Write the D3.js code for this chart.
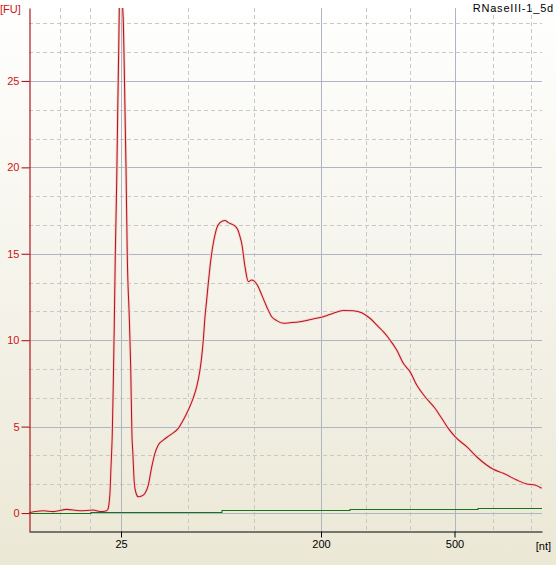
<!DOCTYPE html>
<html>
<head>
<meta charset="utf-8">
<script src="https://cdn.jsdelivr.net/npm/d3@7"></script>
<style>
  html, body {margin: 0; padding: 0; background: #ece9d8;}
  svg {display: block;}
  text {font-family: "Liberation Sans", Arial, sans-serif; font-size: 11px;}
</style>
</head>
<body>
<svg id="chart" width="556" height="565"></svg>
<script>
// electropherogram: migration time (s) vs fluorescence (FU)
const sampleName = 'RNaseIII-1_5d';
const yTicks = [0, 5, 10, 15, 20, 25];
const ladderSizes = [25, 200, 500];
const ladderTimes = [27.2, 47.2, 60.55];
const segmentBounds = [18, 27.2, 47.2, 60.55, 72.0];

const sampleTime = [18.0, 19.43, 20.43, 21.77, 23.1, 24.43, 25.1, 25.77, 25.93, 26.03, 26.1, 26.2, 26.33, 26.43,
  26.53, 26.63, 26.77, 26.87, 26.97, 27.03, 27.2, 27.37, 27.43, 27.53, 27.7, 27.83, 28.03, 28.17, 28.3, 28.37,
  28.53, 28.7, 28.93, 29.27, 29.6, 29.93, 30.27, 30.6, 30.93, 31.43, 32.1, 32.93, 33.43, 33.93, 34.43, 34.77,
  35.1, 35.27, 35.43, 35.6, 35.77, 35.93, 36.1, 36.27, 36.43, 36.6, 36.77, 37.1, 37.6, 37.93, 38.43, 38.7,
  38.93, 39.1, 39.27, 39.6, 39.93, 40.27, 40.5, 40.83, 41.27, 41.77, 42.27, 42.77, 43.43, 44.1, 45.1, 46.43,
  47.43, 48.43, 49.43, 50.43, 51.27, 52.1, 52.93, 53.43, 54.1, 54.77, 55.43, 56.1, 56.77, 57.6, 58.6, 59.27,
  59.93, 60.6, 61.77, 62.93, 64.43, 65.43, 66.77, 67.77, 68.6, 69.27];
const sampleFU = [0.02, 0.13, 0.08, 0.21, 0.13, 0.17, 0.08, 0.13, 0.29, 0.69, 1.22, 2.66, 4.63, 7.52,
  11.0, 14.93, 19.16, 23.15, 26.79, 29.2, 40.0, 29.2, 28.5, 25.6, 20.0, 14.8, 11.3, 8.45, 4.4, 3.65,
  1.74, 1.16, 0.94, 0.98, 1.14, 1.62, 2.66, 3.47, 3.94, 4.22, 4.51, 4.9, 5.38, 5.96, 6.66, 7.31,
  8.28, 9.05, 10.01, 11.36, 12.33, 13.31, 14.25, 15.03, 15.61, 16.09, 16.48, 16.8, 16.93, 16.8, 16.67, 16.55,
  16.32, 15.99, 15.61, 14.25, 13.39, 13.48, 13.43, 13.19, 12.62, 11.94, 11.36, 11.13, 10.98, 11.01, 11.07, 11.23,
  11.36, 11.56, 11.72, 11.70, 11.59, 11.27, 10.78, 10.49, 10.01, 9.43, 8.66, 8.18, 7.41, 6.73, 6.06, 5.48,
  4.9, 4.42, 3.84, 3.17, 2.53, 2.3, 1.91, 1.68, 1.62, 1.43];

const baselineTime = [18, 24.2, 37.3, 50.1, 62.9, 69.3];
const baselineFU = [0.02, 0.07, 0.15, 0.22, 0.28, 0.28];

const width = 556, height = 565;
const margin = {top: 8, right: 14, bottom: 34, left: 29};

let svg = d3.select('#chart');

let grad = svg.append('defs').append('linearGradient')
  .attr('id', 'bg').attr('x1', 0).attr('y1', 0).attr('x2', 0).attr('y2', 1);
grad.append('stop').attr('offset', '0%').attr('stop-color', '#ffffff');
grad.append('stop').attr('offset', '100%').attr('stop-color', '#ebe8d6');

svg.select('defs').append('clipPath').attr('id', 'plotClip')
  .append('rect')
  .attr('x', margin.left).attr('y', margin.top)
  .attr('width', width - margin.left - margin.right)
  .attr('height', height - margin.top - margin.bottom);

svg.append('rect').attr('width', width).attr('height', height).attr('fill', 'url(#bg)');

let x = d3.scaleLinear().domain([18, 69.3]).range([margin.left, width - margin.right]);
let y = d3.scaleLinear().domain([-1.04, 29.22]).range([height - margin.bottom, margin.top]);

// grid: dashed thirds between ladder peaks, solid at labelled sizes
let minorX = [];
for (let i = 0; i < segmentBounds.length - 1; i++) {
  let a = segmentBounds[i], b = segmentBounds[i + 1];
  [1, 2].forEach(j => minorX.push(a + (b - a) * j / 3));
}
minorX = minorX.filter(d => d > x.domain()[0] && d < x.domain()[1]);
let minorY = d3.range(1, 18).filter(k => k % 3 !== 0).map(k => k * 5 / 3);

let grid = svg.append('g').attr('class', 'grid');
grid.selectAll('.minor-x').data(minorX).join('line')
  .attr('x1', d => Math.round(x(d)) + 0.5).attr('x2', d => Math.round(x(d)) + 0.5)
  .attr('y1', y.range()[1]).attr('y2', y.range()[0])
  .attr('stroke', '#c8c8c8').attr('stroke-dasharray', '4,3');
grid.selectAll('.minor-y').data(minorY).join('line')
  .attr('x1', x.range()[0]).attr('x2', x.range()[1])
  .attr('y1', d => Math.round(y(d)) + 0.5).attr('y2', d => Math.round(y(d)) + 0.5)
  .attr('stroke', '#c8c8c8').attr('stroke-dasharray', '4,3');
grid.selectAll('.major-x').data(ladderTimes).join('line')
  .attr('x1', d => Math.round(x(d)) + 0.5).attr('x2', d => Math.round(x(d)) + 0.5)
  .attr('y1', y.range()[1]).attr('y2', y.range()[0])
  .attr('stroke', '#aeb5c3');
grid.selectAll('.major-y').data(yTicks).join('line')
  .attr('x1', x.range()[0]).attr('x2', x.range()[1])
  .attr('y1', d => Math.round(y(d)) + 0.5).attr('y2', d => Math.round(y(d)) + 0.5)
  .attr('stroke', '#aeb5c3');

// traces
let sample = sampleTime.map((t, i) => [t, sampleFU[i]]);
let baseline = baselineTime.map((t, i) => [t, baselineFU[i]]);

let sampleLine = d3.line().x(d => x(d[0])).y(d => y(d[1])).curve(d3.curveMonotoneX);
let baselineLine = d3.line().x(d => x(d[0])).y(d => Math.round(y(d[1])) + 0.5).curve(d3.curveStepAfter);

let traces = svg.append('g').attr('clip-path', 'url(#plotClip)');
traces.append('path').datum(sample).attr('d', sampleLine)
  .attr('fill', 'none').attr('stroke', '#f7d2cf').attr('stroke-width', 2.8).attr('stroke-linejoin', 'round');
traces.append('path').datum(sample).attr('d', sampleLine)
  .attr('fill', 'none').attr('stroke', '#b3171b').attr('stroke-width', 1.05).attr('stroke-linejoin', 'round');
traces.append('path').datum(baseline).attr('d', baselineLine)
  .attr('fill', 'none').attr('stroke', '#17741a').attr('stroke-width', 1.1);

// axes
let yAxis = svg.append('g')
  .attr('transform', `translate(${margin.left + 0.5},0)`)
  .call(d3.axisLeft(y).tickValues(yTicks).tickSize(8).tickSizeOuter(0).tickPadding(2));
yAxis.select('.domain').attr('stroke', '#b3171b').attr('stroke-width', 1.2);
yAxis.selectAll('.tick line').attr('stroke', '#b3171b').attr('stroke-width', 1.1);
yAxis.selectAll('.tick text').attr('fill', '#cc1414')
  .style('font-family', '"Liberation Sans", Arial, sans-serif').style('font-size', '11px');

let xAxis = svg.append('g')
  .attr('transform', `translate(0,${height - margin.bottom + 0.5})`)
  .call(d3.axisBottom(x).tickValues(ladderTimes).tickFormat((d, i) => ladderSizes[i])
    .tickSize(6).tickSizeOuter(0).tickPadding(3));
xAxis.select('.domain').attr('stroke', '#000').attr('stroke-width', 1.2);
xAxis.selectAll('.tick line').attr('stroke', '#000');
xAxis.selectAll('.tick text').attr('fill', '#000')
  .style('font-family', '"Liberation Sans", Arial, sans-serif').style('font-size', '11px');

svg.append('text').attr('x', 0).attr('y', 13).attr('fill', '#cc1414').text('[FU]');
svg.append('text').attr('x', 551).attr('y', 550).attr('text-anchor', 'end').attr('fill', '#000').text('[nt]');
svg.append('text').attr('x', 554).attr('y', 12).attr('text-anchor', 'end').attr('fill', '#000')
  .style('letter-spacing', '0.8px').text(sampleName);
</script>
</body>
</html>
